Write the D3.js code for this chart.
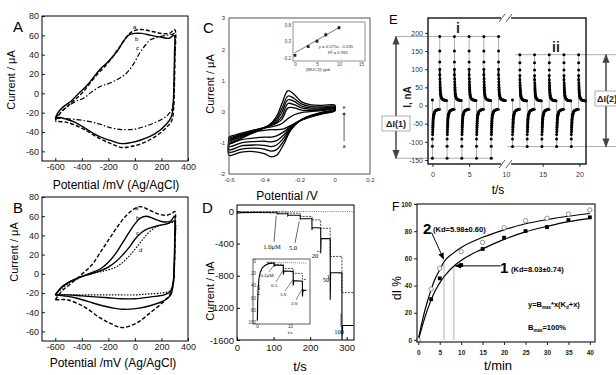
<!DOCTYPE html>
<html>
<head>
<meta charset="utf-8">
<script src="https://cdn.jsdelivr.net/npm/d3@7/dist/d3.min.js"></script>
<style>
body { margin: 0; background: #fff; }
svg { font-family: "Liberation Sans", Arial, sans-serif; }
</style>
</head>
<body>
<svg id="fig" width="616" height="375"></svg>
<script>
const FONT = "Liberation Sans, Arial, sans-serif";

// ---------- A / B : cyclic voltammograms ----------
const abTicksX = [-600, -400, -200, 0, 200, 400];
const abTicksY = [-60, -40, -20, 0, 20, 40, 60, 80];

const aCurveA = [[-600,-28],[-560,-20],[-480,-10],[-400,0],[-300,17],[-200,32],[-130,45],[-70,57],[-20,64],[50,66],[130,64],[200,62],[260,62],[300,66],
  [302,40],[298,10],[292,-15],[278,-28],[240,-35],[150,-45],[50,-52],[-30,-55],[-100,-56],[-180,-52],[-262,-47],[-387,-37],[-512,-30],[-600,-29]];
const aCurveB = [[-600,-26],[-580,-20],[-540,-14],[-480,-8],[-437,-2],[-350,10],[-262,25],[-200,33],[-137,43],[-90,53],[-50,60],[0,62],[50,62],[120,60],[200,58],[260,57],[295,60],
  [298,40],[294,10],[288,-12],[275,-24],[237,-32],[150,-42],[50,-48],[-30,-51],[-100,-52],[-180,-49],[-262,-45],[-330,-40],[-387,-35],[-450,-30],[-512,-27],[-570,-25],[-600,-26]];
const aCurveC = [[-600,-26],[-560,-20],[-500,-13],[-440,-8],[-387,-5],[-330,1],[-262,7],[-200,10],[-137,14],[-70,20],[-12,30],[37,42],[80,50],[112,55],[170,58],[237,60],[280,61],[298,62],
  [298,30],[292,0],[282,-15],[250,-22],[200,-27],[100,-33],[0,-37],[-100,-37.5],[-200,-35],[-262,-32],[-350,-29],[-450,-27],[-550,-26],[-600,-26]];

const bCurveA = [[-600,-27],[-550,-18],[-480,-10],[-387,1],[-320,10],[-262,22],[-200,35],[-137,48],[-70,60],[-12,67],[37,70],[100,67],[162,63],[237,61],[280,63],[300,65],
  [302,40],[298,10],[290,-10],[262,-22],[200,-31],[112,-41],[40,-49],[-12,-53],[-100,-56],[-180,-52],[-262,-46],[-387,-34],[-512,-27],[-570,-27],[-600,-27]];
const bCurveB = [[-600,-22],[-560,-15],[-500,-9],[-420,-4],[-330,1],[-262,5],[-200,12],[-140,22],[-90,33],[-40,44],[0,52],[40,58],[90,60],[150,57],[220,54],[270,55],[298,60],
  [300,40],[296,10],[288,-10],[270,-22],[220,-28],[120,-33],[20,-36],[-80,-37],[-150,-36],[-250,-33],[-350,-29],[-450,-25],[-540,-23],[-600,-22]];
const bCurveC = [[-600,-22],[-560,-15],[-500,-9],[-420,-4],[-330,0],[-262,3],[-200,7],[-140,13],[-90,20],[-40,28],[0,36],[50,43],[100,47],[170,50],[240,52],[298,55],
  [300,35],[296,5],[288,-10],[270,-18],[220,-22],[120,-24],[0,-26],[-100,-26],[-200,-25],[-300,-24],[-400,-23],[-500,-22],[-600,-22]];
const bCurveD = [[-600,-22],[-540,-14],[-460,-7],[-380,-2],[-300,1],[-230,3],[-160,6],[-100,11],[-40,19],[10,27],[60,36],[120,45],[180,50],[240,52],[298,53],
  [300,30],[294,0],[284,-12],[260,-18],[200,-20],[100,-21],[0,-22],[-150,-22],[-300,-22],[-450,-22],[-600,-22]];

// ---------- C : CV series a..e and calibration inset ----------
const cTicksX = [-0.6, -0.4, -0.2, 0, 0.2];
const cTicksY = [-2, -1, 0, 1, 2, 3];
const cUpX = [-0.6, -0.5, -0.42, -0.37, -0.33, -0.3, -0.265, -0.23, -0.19, -0.14, -0.07, 0];
const cLoX = [0, -0.07, -0.14, -0.2, -0.25, -0.29, -0.33, -0.36, -0.4, -0.46, -0.53, -0.6];
const cUp = [
  [-1.05, -0.78, -0.58, -0.42, -0.15, 0.25, 0.67, 0.55, 0.32, 0.22, 0.2, 0.21],
  [-1.0, -0.75, -0.57, -0.43, -0.22, 0.1, 0.5, 0.42, 0.25, 0.17, 0.15, 0.17],
  [-0.95, -0.72, -0.56, -0.44, -0.28, -0.02, 0.38, 0.33, 0.18, 0.12, 0.12, 0.14],
  [-0.9, -0.7, -0.55, -0.45, -0.33, -0.15, 0.26, 0.22, 0.12, 0.08, 0.09, 0.12],
  [-0.85, -0.67, -0.54, -0.46, -0.37, -0.25, 0.12, 0.12, 0.05, 0.04, 0.06, 0.1],
  [-0.8, -0.65, -0.55, -0.5, -0.45, -0.38, -0.22, -0.1, -0.03, 0.0, 0.03, 0.08]];
const cLo = [
  [0.08, -0.02, -0.13, -0.3, -0.6, -1.05, -1.4, -1.45, -1.35, -1.28, -1.3, -1.4],
  [0.06, -0.03, -0.14, -0.3, -0.58, -0.95, -1.22, -1.27, -1.2, -1.17, -1.2, -1.3],
  [0.05, -0.04, -0.15, -0.3, -0.55, -0.85, -1.07, -1.12, -1.08, -1.07, -1.1, -1.22],
  [0.04, -0.05, -0.16, -0.3, -0.52, -0.75, -0.93, -0.97, -0.95, -0.96, -1.0, -1.12],
  [0.03, -0.06, -0.17, -0.3, -0.48, -0.65, -0.78, -0.82, -0.82, -0.85, -0.9, -1.02],
  [0.02, -0.07, -0.18, -0.3, -0.45, -0.55, -0.58, -0.58, -0.6, -0.65, -0.75, -0.9]];
const cInsetX = [0, 3, 5, 7, 10];
const cInsetY = [-0.11, 0.15, 0.31, 0.5, 0.71];
const cInsetErr = [0.04, 0.03, 0.04, 0.06, 0.05];
const cFitLine = [[0, -0.035], [10, 0.715]];
const cInsetTicksX = [0, 5, 10, 15];
const cInsetTicksY = [-0.2, 0.3, 0.8];

// ---------- D : amperometric steps ----------
const dTicksX = [0, 100, 200, 300];
const dTicksY = [0, -400, -800, -1200, -1600];
const dSolid = [[0,-4],[1,-22],[4,-20],[10,-15],[50,-14],[110,-16],[110,-30],[111,-26],[139,-28],[139,-52],[140,-46],[173,-48],[173,-100],[174,-88],[205,-92],[205,-230],[206,-200],[229,-205],[229,-520],[230,-335],[255,-340],[255,-1100],[256,-760],[287,-765],[287,-1600],[289,-1420],[318,-1420]];
const dDashed = [[0,-2],[110,-3],[110,-8],[139,-8],[139,-22],[173,-22],[173,-62],[205,-62],[205,-105],[229,-105],[229,-210],[255,-210],[255,-560],[287,-560],[287,-1010],[318,-1010]];
const dDotted = [[0,-1],[320,-2]];
const dLabels = ["1.0\u03bcM", "5.0", "20", "50", "100"];
const dLabelTarget = [[110, -30], [173, -100], [229, -480], [255, -820], [287, -1250]];
const dInsetTicksX = [0, 10];
const dInsetTicksY = [0, -20, -40, -60, -80, -100];
const dInSolid = [[0.1,-98],[0.2,-70],[0.35,-45],[0.6,-28],[1,-18],[1.6,-11],[2.4,-7],[3.5,-4],[5.2,-3],[5.2,-9],[5.4,-6],[8,-7],[8,-22],[8.2,-16],[11,-17],[11,-40],[11.2,-32],[13.8,-33],[13.8,-58],[14,-48],[15,-48]];
const dInDashed = [[3,-2],[5.2,-2],[5.2,-5],[8,-5],[8,-12],[11,-12],[11,-20],[13.8,-20],[13.8,-30],[15,-30]];
const dInDotted = [[3,-1.5],[15,-3]];
const dInLabels = ["0.2\u03bcM", "0.5", "1.0", "2.0"];
const dInTarget = [[5.2, -6], [8, -14], [11, -30], [13.8, -45]];

// ---------- E : pulse current ----------
const eTicksX = [0, 5, 10, 15, 20];
const eTicksY = [-150, -100, -50, 0, 50, 100, 150, 200];
const eNegDt = [0, 0, 0, 0.03, 0.04, 0.05, 0.06, 0.07, 0.08, 0.09, 0.1, 0.12, 0.14, 0.17, 0.2, 0.24, 0.29, 0.35, 0.43, 0.52, 0.62, 0.73, 0.85, 0.95];
const eNegI1 = [-145, -112, -92, -80, -73, -66, -60, -54, -49, -44, -40, -35, -31, -27, -24, -21, -18, -16, -14, -13, -12, -11, -10, -10];
const eNegI2 = [-113, -92, -80, -72, -66, -60, -55, -50, -46, -42, -38, -34, -30, -27, -24, -21, -18, -16, -14, -13, -12, -11, -10, -10];
const ePosDt = [0, 0, 0, 0, 0, 0.03, 0.04, 0.05, 0.06, 0.07, 0.08, 0.1, 0.12, 0.15, 0.19, 0.24, 0.3, 0.38, 0.47, 0.57, 0.68, 0.8, 0.92];
const ePosI1 = [190, 150, 120, 100, 85, 74, 65, 57, 50, 45, 40, 35, 31, 27, 24, 21, 19, 17, 16, 15, 15, 14, 14];
const ePosI2 = [140, 118, 98, 83, 71, 62, 55, 49, 44, 40, 36, 32, 28, 25, 22, 20, 18, 16, 15, 14, 14, 13, 13];
const eNegStart1 = [0, 2, 4, 6, 8];
const ePosStart1 = [1, 3, 5, 7, 9];
const eNegStart2 = [10.9, 12.9, 14.9, 16.9, 18.9];
const ePosStart2 = [11.9, 13.9, 15.9, 17.9, 19.9];
const eFirstDots = [[0, 15], [10.9, 15]];
const eLevels = [190, -145, 140, -113];

// ---------- F : binding kinetics ----------
const fTicksX = [0, 5, 10, 15, 20, 25, 30, 35, 40];
const fTicksY = [0, 20, 40, 60, 80, 100];
const fOpenX = [0, 3, 5, 10, 15, 20, 25, 30, 35, 40];
const fOpen = [0, 37.5, 52.7, 65, 71.8, 82.6, 87.7, 89.5, 92.6, 95.6];
const fSqX = [3, 5, 10, 15, 20, 25, 30, 35, 40];
const fSq = [30, 45.3, 55.1, 66.9, 75.2, 80.1, 83, 88.2, 90.2];
const fFitX = [0, 1, 2, 3, 4, 5, 6, 8, 10, 15, 20, 25, 30, 35, 40];
const fFit2 = [0, 15, 27, 37, 45.5, 51.5, 57.5, 63.5, 68, 75.5, 81, 85.5, 88.5, 91, 93];
const fFit1 = [0, 11, 21, 29.5, 36.5, 42, 46.5, 53.5, 58.5, 67, 74, 79.5, 83.5, 87, 89.5];
const fKd = [6, 8.3];
const fKdTop = [57.5, 54.2];

const svg = d3.select("#fig");
const defs = svg.append("defs");
function marker(id, color, size) {
  defs.append("marker").attr("id", id).attr("viewBox", "0 -5 10 10")
    .attr("refX", 9).attr("refY", 0).attr("markerWidth", size).attr("markerHeight", size)
    .attr("markerUnits", "userSpaceOnUse").attr("orient", "auto-start-reverse")
    .append("path").attr("d", "M0,-4L10,0L0,4Z").attr("fill", color);
}
marker("arrE", "#444", 9);
marker("arrF", "#000", 7);

function txt(x, y, s, o = {}) {
  const t = svg.append("text").attr("x", x).attr("y", y).text(s)
    .attr("font-size", o.size || 10)
    .attr("text-anchor", o.anchor || "start")
    .attr("font-weight", o.weight || "normal")
    .attr("fill", o.fill || "#000");
  if (o.rotate) t.attr("transform", `rotate(-90,${x},${y})`);
  if (o.family) t.attr("font-family", o.family);
  return t;
}

function scales(xd, xr, yd, yr) {
  return { x: d3.scaleLinear().domain(xd).range(xr), y: d3.scaleLinear().domain(yd).range(yr) };
}

function axes(p, o) {
  const g = svg.append("g");
  const fmt = d => String(d);
  const gx = g.append("g").attr("transform", `translate(0,${p.y.range()[0]})`)
    .call(d3.axisBottom(p.x).tickValues(o.xt).tickFormat(o.xf || fmt)
      .tickSizeInner(o.ts).tickSizeOuter(0).tickPadding(o.xpad));
  const gy = g.append("g").attr("transform", `translate(${p.x.range()[0]},0)`)
    .call(d3.axisLeft(p.y).tickValues(o.yt).tickFormat(o.yf || fmt)
      .tickSizeInner(o.ts).tickSizeOuter(0).tickPadding(o.ypad));
  [gx, gy].forEach(a => {
    a.attr("font-size", null).attr("font-family", null);
    a.select(".domain").remove();
    a.selectAll("text").attr("font-size", o.fs).attr("font-weight", o.fw || "normal")
      .attr("fill", o.col || "#000").attr("font-family", o.family || FONT);
    a.selectAll("line").attr("stroke", o.col || "#000");
  });
  if (o.frame !== false) {
    const [x0, x1] = p.x.range(), [y0, y1] = p.y.range();
    g.append("rect").attr("x", x0).attr("y", y1).attr("width", x1 - x0).attr("height", y0 - y1)
      .attr("fill", "none").attr("stroke", o.frameCol || "#000").attr("stroke-width", o.frameW || 1);
  }
  return g;
}

function path(p, pts, o = {}) {
  const line = d3.line().x(d => p.x(d[0])).y(d => p.y(d[1])).curve(o.curve || d3.curveLinear);
  return svg.append("path").attr("d", line(pts)).attr("fill", "none")
    .attr("stroke", o.col || "#000").attr("stroke-width", o.w || 1)
    .attr("stroke-dasharray", o.dash || null);
}

// ================= Panel A =================
const pA = scales([-700, 400], [42, 188], [-70, 80], [161, 16]);
path(pA, aCurveA, { curve: d3.curveCatmullRom, dash: "4,2", w: 1.4 });
path(pA, aCurveB, { curve: d3.curveCatmullRom, w: 1.4 });
path(pA, aCurveC, { curve: d3.curveCatmullRom, dash: "5,2,1.5,2", w: 1.2 });
axes(pA, { xt: abTicksX, yt: abTicksY, ts: -3, xpad: 3, ypad: 3, fs: 9, col: "#222" });
txt(133, 29, "a", { size: 6 });
txt(135, 41, "b", { size: 6 });
txt(136, 50, "c", { size: 6 });
txt(13, 32, "A", { size: 15 });
txt(15, 80, "Current / \u03bcA", { size: 11, rotate: true, anchor: "middle" });
txt(116, 189, "Potential /mV (Ag/AgCl)", { size: 12, anchor: "middle" });

// ================= Panel B =================
const pB = scales([-700, 400], [42, 188], [-70, 80], [341, 197]);
path(pB, bCurveA, { curve: d3.curveCatmullRom, dash: "4,2", w: 1.4 });
path(pB, bCurveB, { curve: d3.curveCatmullRom, w: 1.4 });
path(pB, bCurveC, { curve: d3.curveCatmullRom, w: 1.4 });
path(pB, bCurveD, { curve: d3.curveCatmullRom, dash: "1.5,1.5", w: 1.2 });
axes(pB, { xt: abTicksX, yt: abTicksY, ts: -3, xpad: 3, ypad: 3, fs: 9, col: "#222" });
txt(135, 210, "a", { size: 6 });
txt(136, 220, "b", { size: 6 });
txt(136, 235, "c", { size: 6 });
txt(139, 252, "d", { size: 6 });
txt(13, 213, "B", { size: 15 });
txt(18, 252, "Current / \u03bcA", { size: 11, rotate: true, anchor: "middle" });
txt(113, 367, "Potential /mV (Ag/AgCl)", { size: 12, anchor: "middle" });

// ================= Panel C =================
const pC = scales([-0.6, 0.2], [229, 370], [-2, 3], [174, 18]);
cUp.forEach((up, i) => {
  const pts = cUpX.map((x, j) => [x, up[j]]).concat(cLoX.map((x, j) => [x, cLo[i][j]]));
  pts.push(pts[0]);
  path(pC, pts, { curve: d3.curveCatmullRom, w: 1.3 });
});
axes(pC, { xt: cTicksX, yt: cTicksY, ts: 0, xpad: 4, ypad: 4, fs: 6, col: "#333", frameCol: "#555" });
// a -> e arrow
svg.append("line").attr("x1", pC.x(0.053)).attr("x2", pC.x(0.053))
  .attr("y1", pC.y(-0.95)).attr("y2", pC.y(-0.08)).attr("stroke", "#333").attr("stroke-width", 0.8);
svg.append("path").attr("d", `M${pC.x(0.053) - 2},${pC.y(-0.1)}L${pC.x(0.053)},${pC.y(-0.02)}L${pC.x(0.053) + 2},${pC.y(-0.1)}Z`).attr("fill", "#222");
txt(pC.x(0.053), pC.y(0.08), "e", { size: 5, anchor: "middle" });
txt(pC.x(0.053), pC.y(-1.18), "a", { size: 5, anchor: "middle" });
txt(203, 33, "C", { size: 15 });
txt(214, 84, "Current / \u03bcA", { size: 11, rotate: true, anchor: "middle" });
txt(287, 200, "Potential /V", { size: 12, anchor: "middle" });

// inset of C
const pCi = scales([-0.45, 15.9], [293, 365], [-0.28, 0.88], [61, 22]);
svg.append("rect").attr("x", 293).attr("y", 22).attr("width", 72).attr("height", 39).attr("fill", "#fff");
path(pCi, cFitLine, { col: "#555", w: 0.8 });
cInsetX.forEach((x, i) => {
  svg.append("line").attr("x1", pCi.x(x)).attr("x2", pCi.x(x))
    .attr("y1", pCi.y(cInsetY[i] - cInsetErr[i])).attr("y2", pCi.y(cInsetY[i] + cInsetErr[i]))
    .attr("stroke", "#222").attr("stroke-width", 0.7);
  svg.append("rect").attr("x", pCi.x(x) - 1.4).attr("y", pCi.y(cInsetY[i]) - 1.4)
    .attr("width", 2.8).attr("height", 2.8).attr("fill", "#222");
});
axes(pCi, { xt: cInsetTicksX, yt: cInsetTicksY, ts: 0, xpad: 2, ypad: 2, fs: 4.5, col: "#444", frameCol: "#777", frameW: 0.8 });
txt(336, 48, "y = 0.075x - 0.035", { size: 4.3, anchor: "middle", fill: "#333" });
txt(338, 54, "R\u00b2 = 0.991", { size: 4.3, anchor: "middle", fill: "#333" });
txt(318, 71, "[MUC1]/ ppb", { size: 4.3, anchor: "middle", fill: "#333" });

// ================= Panel D =================
const pD = scales([0, 320], [237, 354], [-1600, 80], [340, 205]);
path(pD, dDotted, { dash: "1,1.2", col: "#666", w: 0.9 });
path(pD, dDashed, { dash: "2,1.2", col: "#333", w: 0.9 });
path(pD, dSolid, { w: 1.1 });
dLabels.forEach((s, i) => {
  const lx = [272, 293, 315, 326, 339][i], ly = [249, 250, 258, 282, 334][i];
  svg.append("line").attr("x1", lx + 2).attr("y1", ly - 7)
    .attr("x2", pD.x(dLabelTarget[i][0]) - 1).attr("y2", pD.y(dLabelTarget[i][1]) + 2)
    .attr("stroke", "#222").attr("stroke-width", 0.7);
  txt(lx, ly, s, { size: 6.5, anchor: "middle", family: "Liberation Serif, serif" });
});
axes(pD, { xt: dTicksX, yt: dTicksY, ts: -3, xpad: 4, ypad: 3, fs: 9.5, col: "#111" });

// inset of D
svg.append("rect").attr("x", 253).attr("y", 259).attr("width", 57).attr("height", 65)
  .attr("fill", "#fff").attr("stroke", "#333").attr("stroke-width", 0.8);
const pDi = scales([0, 15.5], [257, 308], [-100, 2], [322, 260]);
path(pDi, dInDotted, { dash: "1,1", col: "#666", w: 0.8 });
path(pDi, dInDashed, { dash: "2,1", col: "#333", w: 0.8 });
path(pDi, dInSolid, { w: 1.1 });
dInLabels.forEach((s, i) => {
  const lx = [267, 274, 283, 294][i], ly = [277, 287, 296, 305][i];
  svg.append("line").attr("x1", lx + 2).attr("y1", ly - 5)
    .attr("x2", pDi.x(dInTarget[i][0])).attr("y2", pDi.y(dInTarget[i][1]))
    .attr("stroke", "#333").attr("stroke-width", 0.6);
  txt(lx, ly, s, { size: 5, anchor: "middle", family: "Liberation Serif, serif" });
});
axes(pDi, { xt: dInsetTicksX, yt: dInsetTicksY, ts: 0, xpad: 3, ypad: 1, fs: 4.5, col: "#333", frame: false,
  yf: d => String(Math.abs(d)) });
txt(260, 290, "I / nA", { size: 4.5, rotate: true, anchor: "middle", family: "Liberation Serif, serif" });
txt(290, 334, "t/s", { size: 5, anchor: "middle", family: "Liberation Serif, serif" });

txt(202, 213, "D", { size: 15 });
txt(214, 291, "Current / nA", { size: 11, rotate: true, anchor: "middle" });
txt(300, 371, "t/s", { size: 13, anchor: "middle" });

// ================= Panel E =================
const pE = scales([-0.6, 20.9], [428, 586], [-161, 241], [164, 18]);
// level lines
svg.append("line").attr("x1", 396).attr("x2", pE.x(9.3)).attr("y1", pE.y(eLevels[0])).attr("y2", pE.y(eLevels[0])).attr("stroke", "#999").attr("stroke-width", 0.8);
svg.append("line").attr("x1", 396).attr("x2", pE.x(8.3)).attr("y1", pE.y(eLevels[1])).attr("y2", pE.y(eLevels[1])).attr("stroke", "#999").attr("stroke-width", 0.8);
svg.append("line").attr("x1", pE.x(11.3)).attr("x2", 616).attr("y1", pE.y(eLevels[2])).attr("y2", pE.y(eLevels[2])).attr("stroke", "#999").attr("stroke-width", 0.8);
svg.append("line").attr("x1", pE.x(10.2)).attr("x2", 616).attr("y1", pE.y(eLevels[3])).attr("y2", pE.y(eLevels[3])).attr("stroke", "#999").attr("stroke-width", 0.8);

function pulses(starts, dts, vals, prev) {
  starts.forEach(t0 => {
    svg.append("line").attr("x1", pE.x(t0)).attr("x2", pE.x(t0))
      .attr("y1", pE.y(prev)).attr("y2", pE.y(vals[0])).attr("stroke", "#888").attr("stroke-width", 0.7);
    const pts = dts.map((d, j) => [t0 + d, vals[j]]);
    path(pE, pts.slice(3), { w: 1.6, curve: d3.curveMonotoneY });
    svg.append("g").selectAll("circle").data(pts).join("circle")
      .attr("cx", d => pE.x(d[0])).attr("cy", d => pE.y(d[1])).attr("r", 1.5).attr("fill", "#000");
  });
}
pulses(eNegStart1, eNegDt, eNegI1, 15);
pulses(ePosStart1, ePosDt, ePosI1, -10);
pulses(eNegStart2, eNegDt, eNegI2, 15);
pulses(ePosStart2, ePosDt, ePosI2, -10);
svg.append("g").selectAll("circle").data(eFirstDots).join("circle")
  .attr("cx", d => pE.x(d[0])).attr("cy", d => pE.y(d[1])).attr("r", 1.5).attr("fill", "#000");

axes(pE, { xt: eTicksX, yt: eTicksY, ts: 3, xpad: 5, ypad: 2, fs: 7, col: "#333", frameCol: "#111", frameW: 1.4 });
// axis break
[pE.y.range()[1], pE.y.range()[0]].forEach(yy => {
  svg.append("rect").attr("x", 501).attr("y", yy - 3).attr("width", 10).attr("height", 6).attr("fill", "#fff");
  [501, 508].forEach(xx => svg.append("line").attr("x1", xx - 2).attr("y1", yy + 4).attr("x2", xx + 4).attr("y2", yy - 4)
    .attr("stroke", "#444").attr("stroke-width", 0.9));
});
// delta arrows
svg.append("line").attr("x1", 396).attr("x2", 396).attr("y1", pE.y(eLevels[0])).attr("y2", pE.y(eLevels[1]))
  .attr("stroke", "#444").attr("stroke-width", 1.5).attr("marker-start", "url(#arrE)").attr("marker-end", "url(#arrE)");
svg.append("line").attr("x1", 606).attr("x2", 606).attr("y1", pE.y(eLevels[2])).attr("y2", pE.y(eLevels[3]))
  .attr("stroke", "#444").attr("stroke-width", 1.5).attr("marker-start", "url(#arrE)").attr("marker-end", "url(#arrE)");
svg.append("rect").attr("x", 382).attr("y", 116).attr("width", 28).attr("height", 15).attr("fill", "#fff").attr("stroke", "#999").attr("stroke-width", 0.8);
txt(396, 127, "\u0394I(1)", { size: 9, weight: "bold", anchor: "middle", fill: "#222" });
svg.append("rect").attr("x", 595).attr("y", 91).attr("width", 30).attr("height", 15).attr("fill", "#fff").attr("stroke", "#999").attr("stroke-width", 0.8);
txt(597, 102, "\u0394I(2)", { size: 9, weight: "bold", fill: "#222" });
txt(458, 33, "i", { size: 14, weight: "bold", anchor: "middle", fill: "#222" });
txt(556, 52, "ii", { size: 14, weight: "bold", anchor: "middle", fill: "#222" });
txt(389, 24, "E", { size: 13 });
txt(411, 97, "I, nA", { size: 10, weight: "bold", rotate: true, anchor: "middle", fill: "#222" });
txt(498, 194, "t/s", { size: 12, anchor: "middle" });

// ================= Panel F =================
const pF = scales([-0.3, 41.2], [417, 595], [-1.5, 100], [342, 204]);
fKd.forEach((k, i) => {
  svg.append("line").attr("x1", pF.x(k)).attr("x2", pF.x(k)).attr("y1", pF.y(0)).attr("y2", pF.y(fKdTop[i]))
    .attr("stroke", "#aaa").attr("stroke-width", 0.9);
});
path(pF, fFitX.map((x, i) => [x, fFit2[i]]), { curve: d3.curveMonotoneX, w: 1.2 });
path(pF, fFitX.map((x, i) => [x, fFit1[i]]), { curve: d3.curveMonotoneX, w: 1.2 });
svg.append("g").selectAll("circle").data(fOpenX).join("circle")
  .attr("cx", d => pF.x(d)).attr("cy", (d, i) => pF.y(fOpen[i])).attr("r", 2.2)
  .attr("fill", "#fff").attr("stroke", "#888").attr("stroke-width", 0.9);
svg.append("g").selectAll("rect").data(fSqX).join("rect")
  .attr("x", d => pF.x(d) - 1.9).attr("y", (d, i) => pF.y(fSq[i]) - 1.9).attr("width", 3.8).attr("height", 3.8).attr("fill", "#000");
axes(pF, { xt: fTicksX, yt: fTicksY, ts: 3, xpad: 5, ypad: 2, fs: 6.5, fw: "bold", col: "#222", frameCol: "#222", frameW: 1.2 });
// annotations
svg.append("line").attr("x1", pF.x(3.1)).attr("y1", pF.y(79)).attr("x2", pF.x(5.9)).attr("y2", pF.y(59.5))
  .attr("stroke", "#000").attr("stroke-width", 1).attr("marker-end", "url(#arrF)");
svg.append("line").attr("x1", pF.x(19.2)).attr("y1", pF.y(54.5)).attr("x2", pF.x(8.6)).attr("y2", pF.y(54.5))
  .attr("stroke", "#000").attr("stroke-width", 1).attr("marker-end", "url(#arrF)");
txt(423, 234, "2", { size: 15, weight: "bold" });
txt(433, 232, "(Kd=5.98\u00b10.60)", { size: 7.5, weight: "bold" });
txt(500, 273, "1", { size: 15, weight: "bold" });
txt(511, 272, "(Kd=8.03\u00b10.74)", { size: 7.5, weight: "bold" });
const eq = txt(528, 307, "y=B", { size: 7.5, weight: "bold" });
eq.append("tspan").attr("font-size", 4.5).attr("dy", 1.5).text("max");
eq.append("tspan").attr("dy", -1.5).text("*x(K");
eq.append("tspan").attr("font-size", 4.5).attr("dy", 1.5).text("d");
eq.append("tspan").attr("dy", -1.5).text("+x)");
const bm = txt(528, 330, "B", { size: 7.5, weight: "bold" });
bm.append("tspan").attr("font-size", 4.5).attr("dy", 1.5).text("max");
bm.append("tspan").attr("dy", -1.5).text("=100%");
txt(392, 211, "F", { size: 12 });
txt(401, 288, "dI %", { size: 12, rotate: true, anchor: "middle" });
txt(498, 370, "t/min", { size: 13, anchor: "middle" });
</script>
</body>
</html>
